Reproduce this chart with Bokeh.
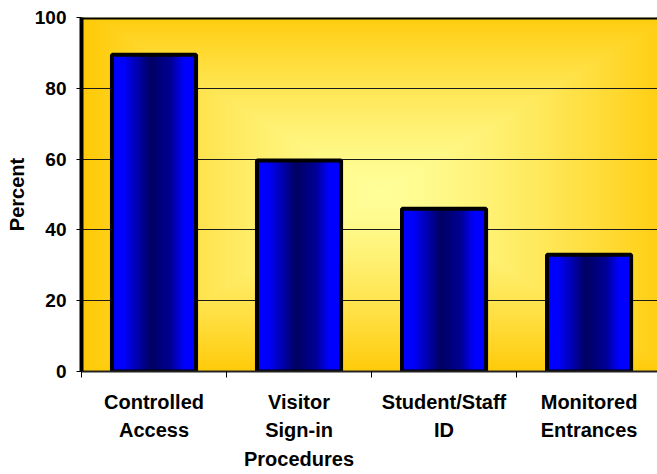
import numpy as np
from bokeh.plotting import figure
from bokeh.models import FixedTicker, Span, Range1d
from bokeh.embed import file_html
from bokeh.resources import INLINE

# ---- data ----
categories = ["Controlled\nAccess", "Visitor\nSign-in\nProcedures", "Student/Staff\nID", "Monitored\nEntrances"]
values = [89.5, 59.6, 46.0, 33.0]
y_ticks = [0, 20, 40, 60, 80, 100]
grid_ticks = [20, 40, 60, 80]

FONT = "Liberation Sans"
BAR_W = 0.58
x_start, x_end = -0.5, 3.472

p = figure(width=657, height=474, x_range=Range1d(x_start, x_end), y_range=Range1d(0, 100),
           output_backend="svg", toolbar_location=None,
           min_border_left=81, min_border_top=17, min_border_bottom=103, min_border_right=0)
p.outline_line_color = None
p.background_fill_color = None
p.border_fill_color = "white"

# ---- background: rectangular "from center" gradient ----
H, W = 354, 576
xs = np.arange(W) + 0.5
ys = np.arange(H) + 0.5
X, Y = np.meshgrid(xs, ys)
cx, cy, hx, hy = 300.0, 175.0, 290.0, 177.0
t = np.clip(np.maximum(np.abs(X - cx) / hx, np.abs(Y - cy) / hy), 0, 1) ** 1.35
c0 = np.array([255, 255, 153.0])
c1 = np.array([255, 204, 12.0])
rgb = c0[None, None, :] * (1 - t[..., None]) + c1[None, None, :] * t[..., None]
rgba = np.empty((H, W), dtype=np.uint32)
view = rgba.view(dtype=np.uint8).reshape((H, W, 4))
view[..., 0] = rgb[..., 0]
view[..., 1] = rgb[..., 1]
view[..., 2] = rgb[..., 2]
view[..., 3] = 255
rgba = rgba[::-1]
p.image_rgba(image=[rgba], x=x_start, y=0, dw=x_end - x_start, dh=100, level="image")

# ---- bar fill gradient ----
N = 240
pos = np.linspace(0, 1, N)
stops = [0.0, 0.13, 0.46, 0.56, 0.70, 0.86, 1.0]
blues = [255, 255, 100, 120, 150, 255, 255]
b = np.interp(pos, stops, blues)
bar = np.empty((1, N), dtype=np.uint32)
bv = bar.view(dtype=np.uint8).reshape((1, N, 4))
bv[..., 0] = 0
bv[..., 1] = 0
bv[..., 2] = b
bv[..., 3] = 255
idx = list(range(len(values)))
p.image_rgba(image=[bar] * len(values), x=[i - BAR_W / 2 for i in idx], y=[0] * len(values),
             dw=[BAR_W] * len(values), dh=values)
p.vbar(x=idx, top=values, width=BAR_W, fill_color=None, line_color="black", line_width=4)

# ---- grid ----
p.xgrid.visible = False
p.ygrid.ticker = FixedTicker(ticks=grid_ticks)
p.ygrid.grid_line_color = "#1a1a1a"
p.ygrid.grid_line_width = 1

# top border
p.add_layout(Span(location=100, dimension="width", line_color="black", line_width=4))

# ---- y axis ----
ya = p.yaxis[0]
ya.ticker = FixedTicker(ticks=y_ticks)
ya.axis_line_color = "black"
ya.axis_line_width = 4
ya.major_tick_out = 5
ya.major_tick_in = 0
ya.minor_tick_out = 0
ya.minor_tick_in = 0
ya.major_tick_line_color = "black"
ya.major_label_text_font = FONT
ya.major_label_text_font_style = "bold"
ya.major_label_text_font_size = "19px"
ya.major_label_text_color = "black"
ya.major_label_standoff = 10
ya.axis_label = "Percent"
ya.axis_label_text_font = FONT
ya.axis_label_text_font_style = "bold"
ya.axis_label_text_font_size = "20px"
ya.axis_label_text_color = "black"
ya.axis_label_standoff = 4

# ---- x axis ----
xa = p.xaxis[0]
xa.ticker = FixedTicker(ticks=idx, minor_ticks=[i - 0.5 for i in range(len(values) + 1)])
xa.major_label_overrides = {i: c for i, c in zip(idx, categories)}
xa.axis_line_color = "#222222"
xa.axis_line_width = 2
xa.major_tick_out = 0
xa.major_tick_in = 0
xa.minor_tick_out = 6
xa.minor_tick_in = 0
xa.minor_tick_line_color = "black"
xa.major_label_text_font = FONT
xa.major_label_text_font_style = "bold"
xa.major_label_text_font_size = "20px"
xa.major_label_text_color = "black"
xa.major_label_text_line_height = 1.3
xa.major_label_standoff = 13

open("out.html", "w").write(file_html(p, INLINE))
